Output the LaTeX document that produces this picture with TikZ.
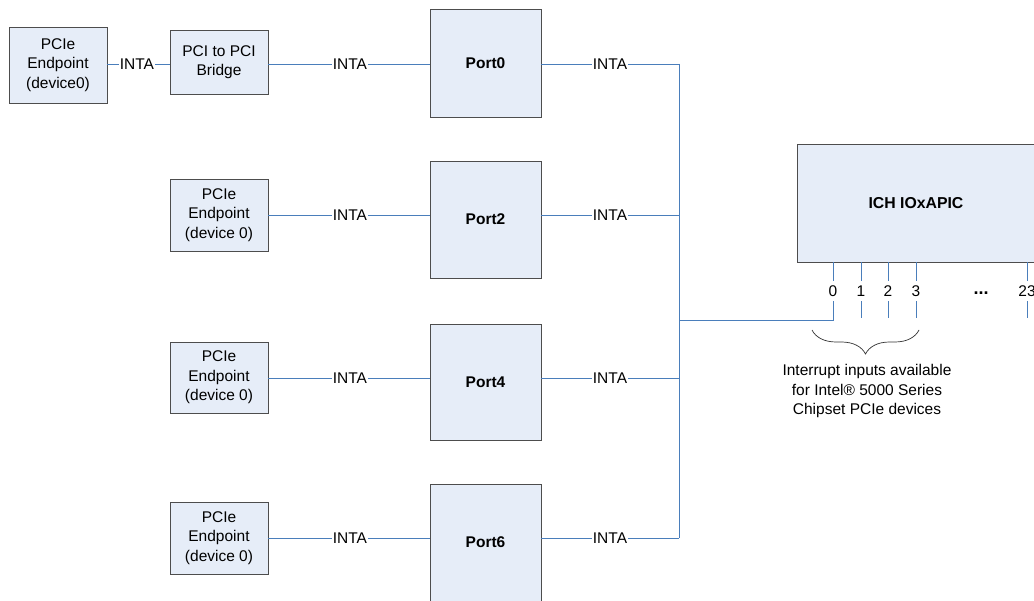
\documentclass[tikz,border=0pt]{standalone}
\usepackage{fontspec}
\setmainfont{Liberation Sans}
\usetikzlibrary{decorations.pathreplacing}
\definecolor{wire}{HTML}{4A7EBB}
\definecolor{boxfill}{HTML}{E6EDF8}
\definecolor{boxline}{HTML}{4D4D4D}
\tikzset{
  blk/.style={draw=boxline, line width=0.9pt, fill=boxfill, align=center, inner sep=0pt},
  wireline/.style={draw=wire, line width=0.9pt},
  lbl/.style={inner sep=1pt, font=\fontsize{15.5}{19.5}\selectfont},
  pinlbl/.style={inner sep=0pt, minimum height=20pt, font=\fontsize{15.5}{19.5}\selectfont},
}
\begin{document}
\begin{tikzpicture}[x=1pt,y=-1pt, every node/.style={font=\fontsize{15.5}{19.5}\selectfont}]
\useasboundingbox (0,0) rectangle (1034,601);
\clip (0,0) rectangle (1034,601);
\fill[white] (0,0) rectangle (1034,601);
% boxes
\node[blk, minimum width=98pt, minimum height=76pt] (ep0) at (58,65) {PCIe\\Endpoint\\(device0)};
\node[blk, minimum width=98pt, minimum height=64pt] (br) at (219,62) {PCI to PCI\\Bridge};
\node[blk, minimum width=98pt, minimum height=72pt] (ep2) at (219,215) {PCIe\\Endpoint\\(device 0)};
\node[blk, minimum width=98pt, minimum height=71pt] (ep4) at (219,377.5) {PCIe\\Endpoint\\(device 0)};
\node[blk, minimum width=98pt, minimum height=72pt] (ep6) at (219,538) {PCIe\\Endpoint\\(device 0)};
\node[blk, minimum width=111pt, minimum height=108pt, font=\fontsize{15.5}{19.5}\selectfont\bfseries] (p0) at (485.5,63) {Port0};
\node[blk, minimum width=111pt, minimum height=117pt, font=\fontsize{15.5}{19.5}\selectfont\bfseries] (p2) at (485.5,219.5) {Port2};
\node[blk, minimum width=111pt, minimum height=116pt, font=\fontsize{15.5}{19.5}\selectfont\bfseries] (p4) at (485.5,382) {Port4};
\node[blk, minimum width=111pt, minimum height=130pt] (p6) at (485.5,549) {};
\node[font=\fontsize{15.5}{19.5}\selectfont\bfseries, inner sep=0pt] (p6l) at (485.5,542) {Port6};
\node[blk, minimum width=250pt, minimum height=118pt] (ich) at (922,203) {};
\node[font=\fontsize{15.8}{19.5}\selectfont\bfseries, inner sep=0pt] (ichl) at (916,203) {ICH IOxAPIC};
% INTA labels
\node[lbl] (i0a) at (137,64) {INTA};
\node[lbl] (i0b) at (350,64) {INTA};
\node[lbl] (i2a) at (350,215) {INTA};
\node[lbl] (i4a) at (350,378) {INTA};
\node[lbl] (i6a) at (350,538) {INTA};
\node[lbl] (i0c) at (610,64) {INTA};
\node[lbl] (i2c) at (610,215) {INTA};
\node[lbl] (i4c) at (610,378) {INTA};
\node[lbl] (i6c) at (610,538) {INTA};
% bus coordinates
\coordinate (b0) at (679,64);
\coordinate (b2) at (679,215);
\coordinate (b4) at (679,378);
\coordinate (b6) at (679,538);
\coordinate (bj) at (679,320);
% left connections
\draw[wireline] (ep0.east |- i0a) -- (i0a.west);
\draw[wireline] (i0a.east) -- (br.west |- i0a);
\draw[wireline] (br.east |- i0b) -- (i0b.west);
\draw[wireline] (i0b.east) -- (p0.west |- i0b);
\draw[wireline] (ep2.east |- i2a) -- (i2a.west);
\draw[wireline] (i2a.east) -- (p2.west |- i2a);
\draw[wireline] (ep4.east |- i4a) -- (i4a.west);
\draw[wireline] (i4a.east) -- (p4.west |- i4a);
\draw[wireline] (ep6.east |- i6a) -- (i6a.west);
\draw[wireline] (i6a.east) -- (p6.west |- i6a);
% right connections
\draw[wireline] (p0.east |- i0c) -- (i0c.west);
\draw[wireline] (i0c.east) -- (b0);
\draw[wireline] (p2.east |- i2c) -- (i2c.west);
\draw[wireline] (i2c.east) -- (b2);
\draw[wireline] (p4.east |- i4c) -- (i4c.west);
\draw[wireline] (i4c.east) -- (b4);
\draw[wireline] (p6.east |- i6c) -- (i6c.west);
\draw[wireline] (i6c.east) -- (b6);
\draw[wireline] (b0) -- (b6);
% pins
\node[pinlbl] (n0) at (833,291) {0};
\node[pinlbl] (n1) at (861,291) {1};
\node[pinlbl] (n2) at (888,291) {2};
\node[pinlbl] (n3) at (916,291) {3};
\node[pinlbl] (n23) at (1027,291) {23};
\node[font=\fontsize{18}{22}\selectfont\bfseries, inner sep=0pt] (dots) at (981,293) {...};
\coordinate (q0) at (833,320);
\draw[wireline] (bj) -- (q0) -- (n0.south);
\draw[wireline] (n0.north) -- (ich.south -| n0);
\foreach \n in {n1,n2,n3,n23} {
  \draw[wireline] (ich.south -| \n) -- (\n.north);
  \draw[wireline] (\n.south) -- ++(0,17);
}
% brace
\coordinate (bl) at (812,330);
\coordinate (brr) at (919,330);
\draw[line width=0.7pt, draw=black!80, decorate, decoration={brace, mirror, amplitude=24pt, aspect=0.5}] (bl) -- (brr);
\node[align=center, inner sep=0pt] (note) at (867,391) {Interrupt inputs available\\for Intel® 5000 Series\\Chipset PCIe devices};
\end{tikzpicture}
\end{document}
